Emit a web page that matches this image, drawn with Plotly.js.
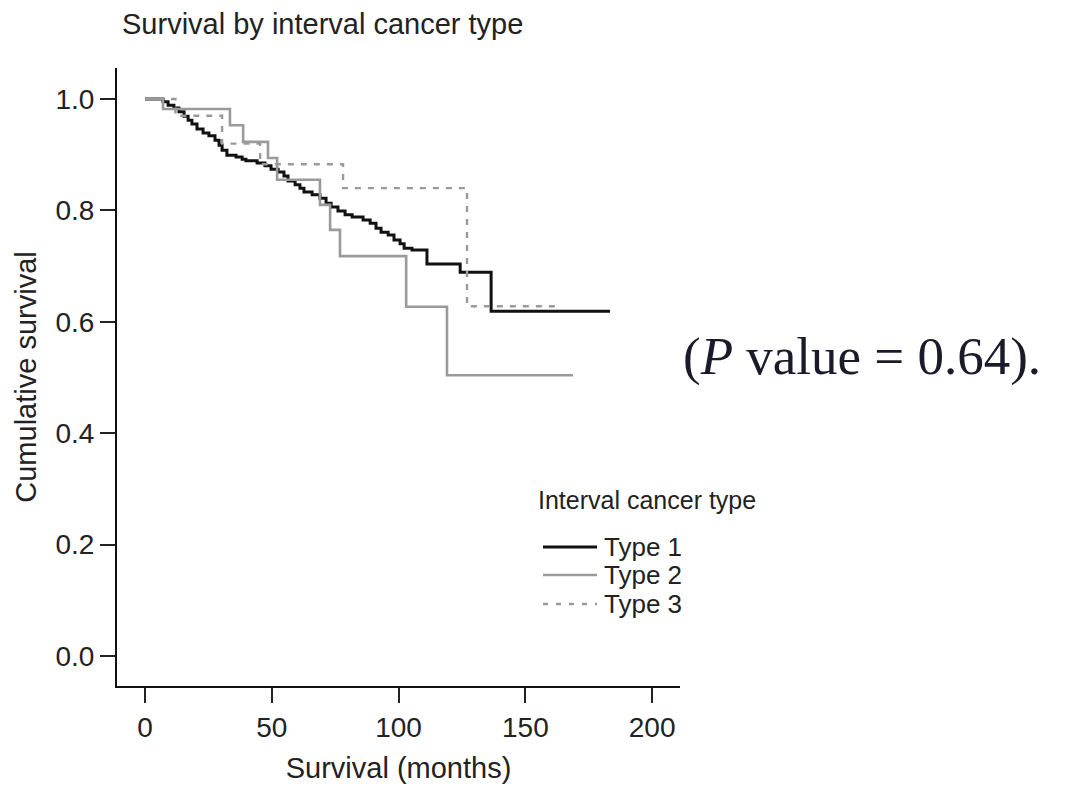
<!DOCTYPE html>
<html>
<head>
<meta charset="utf-8">
<script src="https://cdn.plot.ly/plotly-3.0.1.min.js"></script>
<style>html,body{margin:0;padding:0;background:#fff;}#chart{width:1073px;height:785px;}</style>
</head>
<body>
<div id="chart"></div>
<script>
// Type 1 (black) Kaplan-Meier steps: months, cumulative survival
const type1Months = [0, 7.1, 9.1, 11.4, 13.4, 15.4, 17.0, 18.5, 20.5, 22.9, 25.2, 27.6, 29.2, 30.4, 32.3, 35.9, 38.3, 39.8, 44.2, 47.3, 49.7, 52.5, 54.8, 56.4, 59.2, 61.1, 62.7, 65.9, 69.0, 71.4, 73.4, 76.1, 78.9, 81.7, 86.0, 88.8, 91.1, 93.1, 95.9, 98.2, 100.6, 102.2, 105.3, 111.2, 124.3, 136.5, 183.4];
const type1Surv   = [1.000, 0.995, 0.989, 0.984, 0.977, 0.969, 0.962, 0.955, 0.946, 0.939, 0.934, 0.926, 0.917, 0.908, 0.899, 0.896, 0.892, 0.889, 0.885, 0.880, 0.874, 0.869, 0.862, 0.853, 0.846, 0.840, 0.833, 0.828, 0.822, 0.813, 0.806, 0.799, 0.792, 0.788, 0.783, 0.777, 0.768, 0.761, 0.756, 0.747, 0.740, 0.732, 0.729, 0.704, 0.689, 0.619, 0.619];

// Type 2 (grey)
const type2Months = [0, 7.1, 33.5, 38.7, 48.5, 52.1, 69.0, 73.0, 76.9, 103.0, 119.1, 168.8];
const type2Surv   = [1.000, 0.982, 0.953, 0.923, 0.894, 0.855, 0.810, 0.765, 0.718, 0.627, 0.504, 0.504];

// Type 3 (grey dashed)
const type3Months = [0, 12.0, 30.4, 45.4, 78.1, 127.0, 161.7];
const type3Surv   = [1.000, 0.970, 0.920, 0.883, 0.840, 0.628, 0.628];

const seriesNames = ["Type 1", "Type 2", "Type 3"];
const legendTitle = "Interval cancer type";
const xTicks = [0, 50, 100, 150, 200];
const yTicks = [0.0, 0.2, 0.4, 0.6, 0.8, 1.0];
const yTickText = ["0.0", "0.2", "0.4", "0.6", "0.8", "1.0"];

const FONT = "Liberation Sans, Arial, sans-serif";
const TXT = "#222222";
const styles = [
  {color: "#111111", width: 3, dash: "solid"},
  {color: "#9a9a9a", width: 2.6, dash: "solid"},
  {color: "#9a9a9a", width: 2.4, dash: "6px,7px"}
];
const xs = [type1Months, type2Months, type3Months];
const ys = [type1Surv, type2Surv, type3Surv];

const traces = seriesNames.map((n, i) => ({
  x: xs[i], y: ys[i], name: n, type: "scatter", mode: "lines",
  line: {shape: "hv", color: styles[i].color, width: styles[i].width, dash: styles[i].dash}
}));

// plot area in pixels: x 117..680, y 68..686
const px = v => (v - 117) / 563;
const py = v => (686 - v) / 618;

const legendRowsY = [547, 575, 604];
const shapes = seriesNames.map((n, i) => ({
  type: "line", xref: "paper", yref: "paper",
  x0: px(543), x1: px(597), y0: py(legendRowsY[i]), y1: py(legendRowsY[i]),
  line: {color: styles[i].color, width: styles[i].width, dash: styles[i].dash === "solid" ? "solid" : "5px,8px"}
}));

const annotations = [
  {text: legendTitle, xref: "paper", yref: "paper", x: px(536), xanchor: "left",
   y: py(500), yanchor: "middle", showarrow: false,
   font: {family: FONT, size: 25, color: TXT}},
  ...seriesNames.map((n, i) => ({
    text: n, xref: "paper", yref: "paper", x: px(602), xanchor: "left",
    y: py(legendRowsY[i]), yanchor: "middle", showarrow: false,
    font: {family: FONT, size: 26, color: TXT}
  })),
  {text: "(<i>P</i> value = 0.64).", xref: "paper", yref: "paper",
   x: px(681), xanchor: "left", y: py(356), yanchor: "middle", showarrow: false,
   font: {family: "Liberation Serif, Times New Roman, serif", size: 53, color: "#1a1a2a"}}
];

const layout = {
  width: 1073, height: 785,
  margin: {l: 117, r: 393, t: 68, b: 99, pad: 0},
  paper_bgcolor: "#ffffff", plot_bgcolor: "#ffffff",
  font: {family: FONT, color: TXT, size: 24},
  showlegend: false,
  title: {text: "Survival by interval cancer type", xref: "paper", x: px(122), xanchor: "left",
          yref: "container", y: 1 - 24/785, yanchor: "middle",
          font: {family: FONT, size: 29, color: TXT}},
  xaxis: {range: [-11.05, 211.0], tickvals: xTicks, ticktext: xTicks.map(String),
          showgrid: false, zeroline: false, showline: true, linecolor: "#111", linewidth: 2,
          ticks: "outside", ticklen: 15, tickwidth: 2, tickcolor: "#222",
          tickfont: {family: FONT, size: 28, color: TXT},
          title: {text: "Survival (months)", font: {family: FONT, size: 29, color: TXT}, standoff: 16}},
  yaxis: {range: [-0.0539, 1.0557], tickvals: yTicks, ticktext: yTickText,
          showgrid: false, zeroline: false, showline: true, linecolor: "#111", linewidth: 2,
          ticks: "outside", ticklen: 15, tickwidth: 2, tickcolor: "#222",
          tickfont: {family: FONT, size: 28, color: TXT},
          title: {text: "Cumulative survival", font: {family: FONT, size: 29, color: TXT}, standoff: 10}},
  shapes: shapes,
  annotations: annotations
};

Plotly.newPlot("chart", traces, layout, {displayModeBar: false, staticPlot: true});
</script>
</body>
</html>
